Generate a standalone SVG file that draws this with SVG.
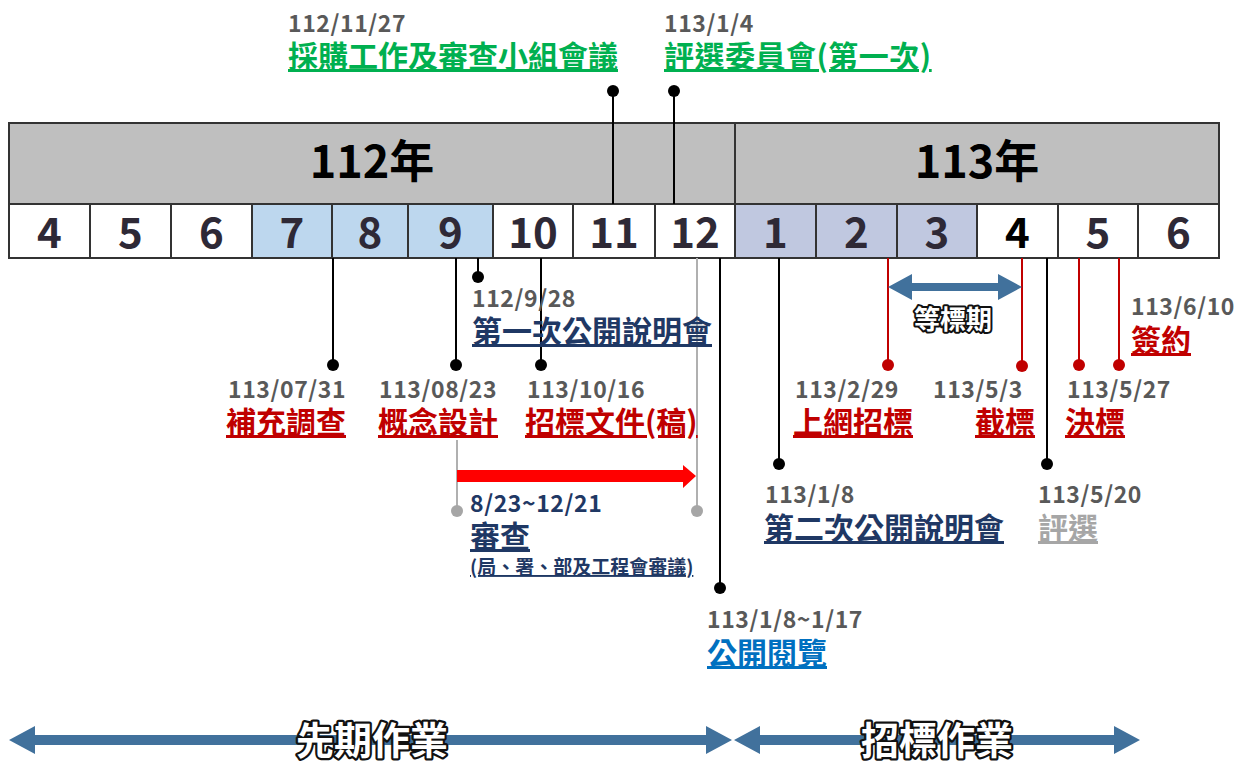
<svg xmlns="http://www.w3.org/2000/svg" width="1248" height="771" viewBox="0 0 1248 771">
<style>
text{font-family:"Noto Sans CJK TC","Noto Sans",sans-serif;font-weight:bold}
.date{font-size:23px;fill:#595959;letter-spacing:0.6px}
.lbl{font-size:30px;text-decoration:underline}
.green{fill:#00b050}.red{fill:#c00000}.navy{fill:#1f3864}.blue{fill:#0070c0}.grey{fill:#a6a6a6}
.mon{font-size:42px;fill:#2e2936;text-anchor:middle}
.year{font-size:45px;fill:#000;text-anchor:middle}
.cell{stroke:#333;stroke-width:2}
.blk{stroke:#000;stroke-width:2}
.rl{stroke:#c00000;stroke-width:2}
.gl{stroke:#b0b0b0;stroke-width:2}
.halo{fill:#fff;stroke:#111;stroke-width:4.5;paint-order:stroke;stroke-linejoin:round;text-anchor:middle}
</style>

<g id="timeline">
<rect x="9" y="123" width="1210" height="81" fill="#bfbfbf" class="cell"/>
<line x1="735" y1="123" x2="735" y2="204" class="cell"/>
<text class="year" x="372" y="178">112年</text>
<text class="year" x="977" y="178">113年</text>
<rect x="9" y="204" width="81" height="54" fill="#fff" class="cell"/>
<rect x="90" y="204" width="81" height="54" fill="#fff" class="cell"/>
<rect x="171" y="204" width="81" height="54" fill="#fff" class="cell"/>
<rect x="252" y="204" width="80" height="54" fill="#bdd7ee" class="cell"/>
<rect x="332" y="204" width="76" height="54" fill="#bdd7ee" class="cell"/>
<rect x="408" y="204" width="85" height="54" fill="#bdd7ee" class="cell"/>
<rect x="493" y="204" width="80" height="54" fill="#fff" class="cell"/>
<rect x="573" y="204" width="82" height="54" fill="#fff" class="cell"/>
<rect x="655" y="204" width="80" height="54" fill="#fff" class="cell"/>
<rect x="735" y="204" width="81" height="54" fill="#c0c8e0" class="cell"/>
<rect x="816" y="204" width="81" height="54" fill="#c0c8e0" class="cell"/>
<rect x="897" y="204" width="80" height="54" fill="#c0c8e0" class="cell"/>
<rect x="977" y="204" width="81" height="54" fill="#fff" class="cell"/>
<rect x="1058" y="204" width="80" height="54" fill="#fff" class="cell"/>
<rect x="1138" y="204" width="81" height="54" fill="#fff" class="cell"/>
<text class="mon" x="49.5" y="248">4</text>
<text class="mon" x="130.5" y="248">5</text>
<text class="mon" x="211.5" y="248">6</text>
<text class="mon" x="292" y="248">7</text>
<text class="mon" x="370" y="248">8</text>
<text class="mon" x="450.5" y="248">9</text>
<text class="mon" x="533" y="248">10</text>
<text class="mon" x="614" y="248">11</text>
<text class="mon" x="695" y="248">12</text>
<text class="mon" x="775.5" y="248">1</text>
<text class="mon" x="856.5" y="248">2</text>
<text class="mon" x="937" y="248">3</text>
<text class="mon" x="1017.5" y="248" style="fill:#000">4</text>
<text class="mon" x="1098" y="248">5</text>
<text class="mon" x="1178.5" y="248">6</text>
</g>

<g id="connectors">
<line x1="613" y1="91" x2="613" y2="204" class="blk"/><circle cx="613" cy="91" r="6"/>
<line x1="674" y1="91" x2="674" y2="204" class="blk"/><circle cx="674" cy="91" r="6"/>
<line x1="333" y1="258" x2="333" y2="365" class="blk"/><circle cx="333" cy="365" r="6"/>
<line x1="456" y1="258" x2="456" y2="365" class="blk"/><circle cx="456" cy="365" r="6"/>
<line x1="478" y1="258" x2="478" y2="277" class="blk"/><circle cx="478" cy="277" r="6"/>
<line x1="541" y1="258" x2="541" y2="365" class="blk"/><circle cx="541" cy="365" r="6"/>
<line x1="457" y1="440" x2="457" y2="511" class="gl"/><circle cx="457" cy="511" r="6" fill="#a6a6a6"/>
<line x1="697" y1="258" x2="697" y2="511" class="gl"/><circle cx="697" cy="511" r="6" fill="#a6a6a6"/>
<line x1="720" y1="258" x2="720" y2="588" class="blk"/><circle cx="720" cy="588" r="6"/>
<line x1="779" y1="258" x2="779" y2="464" class="blk"/><circle cx="779" cy="464" r="6"/>
<line x1="888" y1="258" x2="888" y2="365" class="rl"/><circle cx="888" cy="365" r="6" fill="#c00000"/>
<line x1="1022" y1="258" x2="1022" y2="366" class="rl"/><circle cx="1022" cy="366" r="6" fill="#c00000"/>
<line x1="1047" y1="258" x2="1047" y2="464" class="blk"/><circle cx="1047" cy="464" r="6"/>
<line x1="1079" y1="258" x2="1079" y2="365" class="rl"/><circle cx="1079" cy="365" r="6" fill="#c00000"/>
<line x1="1119" y1="258" x2="1119" y2="365" class="rl"/><circle cx="1119" cy="365" r="6" fill="#c00000"/>
<polygon points="457,470 683,470 683,465 696,476 683,488 683,482 457,482" fill="#ff0000"/>
<polygon points="888,287 912,274 912,283 998,283 998,274 1022,287 998,300 998,291 912,291 912,300" fill="#41719c"/>
<polygon points="9,740 35,726 35,735 706,735 706,726 732,740 706,754 706,745 35,745 35,754" fill="#41719c"/>
<polygon points="734,740 760,726 760,735 1114,735 1114,726 1140,740 1114,754 1114,745 760,745 760,754" fill="#41719c"/>
</g>

<g id="n-1127"><text class="date" x="288" y="32">112/11/27</text><text class="lbl green" x="288" y="67">採購工作及審查小組會議</text></g>
<g id="n-0104"><text class="date" x="664" y="32">113/1/4</text><text class="lbl green" x="664" y="67" style="letter-spacing:0.5px">評選委員會(第一次)</text></g>
<g id="n-0928"><text class="date" x="472" y="307">112/9/28</text><text class="lbl navy" x="472" y="342">第一次公開說明會</text></g>
<g id="n-0731"><text class="date" x="228" y="398">113/07/31</text><text class="lbl red" x="226" y="433">補充調查</text></g>
<g id="n-0823"><text class="date" x="379" y="398">113/08/23</text><text class="lbl red" x="378" y="433">概念設計</text></g>
<g id="n-1016"><text class="date" x="527" y="398">113/10/16</text><text class="lbl red" x="525" y="433">招標文件(稿)</text></g>
<g id="n-review"><text class="date" x="470" y="512" style="fill:#1f3864">8/23~12/21</text><text class="lbl navy" x="470" y="547">審查</text><text class="navy" x="470" y="574" style="font-size:19px;text-decoration:underline">(局、署、部及工程會審議)</text></g>
<g id="n-public"><text class="date" x="707" y="628">113/1/8~1/17</text><text class="lbl blue" x="707" y="664">公開閱覽</text></g>
<g id="n-0108"><text class="date" x="765" y="503">113/1/8</text><text class="lbl navy" x="764" y="539">第二次公開說明會</text></g>
<g id="n-0229"><text class="date" x="795" y="398">113/2/29</text><text class="lbl red" x="793" y="433">上網招標</text></g>
<g id="n-0503"><text class="date" x="933" y="398">113/5/3</text><text class="lbl red" x="975" y="433">截標</text></g>
<g id="n-0520"><text class="date" x="1038" y="503">113/5/20</text><text class="lbl grey" x="1038" y="539">評選</text></g>
<g id="n-0527"><text class="date" x="1067" y="398">113/5/27</text><text class="lbl red" x="1065" y="433">決標</text></g>
<g id="n-0610"><text class="date" x="1131" y="315">113/6/10</text><text class="lbl red" x="1131" y="351">簽約</text></g>
<g id="n-wait"><text class="halo" x="953" y="329" style="font-size:26px;stroke-width:4">等標期</text></g>
<g id="n-phase1"><text class="halo" x="372" y="754" style="font-size:38px">先期作業</text></g>
<g id="n-phase2"><text class="halo" x="937" y="754" style="font-size:38px">招標作業</text></g>
</svg>
